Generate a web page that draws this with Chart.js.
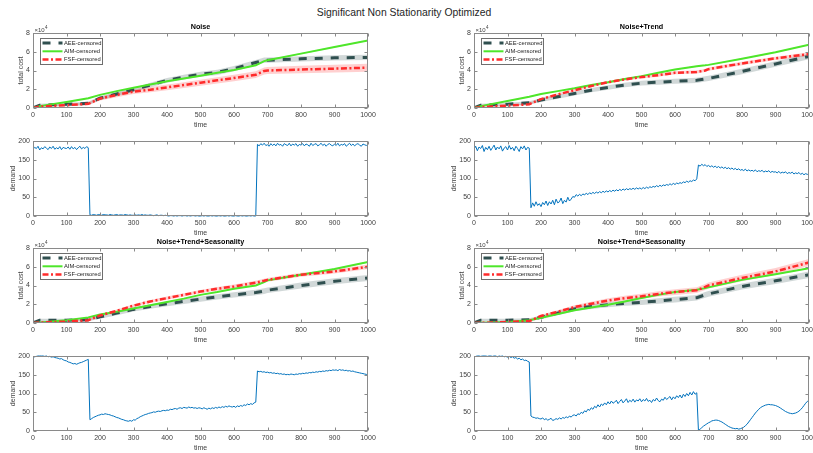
<!DOCTYPE html>
<html>
<head>
<meta charset="utf-8">
<script src="https://cdn.jsdelivr.net/npm/chart.js@4.4.1/dist/chart.umd.min.js"></script>
<style>
  body { margin: 0; background: #fff; }
  #fig { position: relative; width: 813px; height: 453px; overflow: hidden; background: #fff; }
  #fig canvas { position: absolute; }
  #suptitle { position: absolute; left: 0; top: 7px; width: 808px; text-align: center;
    font: 10.4px/12px "Liberation Sans", Arial, sans-serif; color: #262626; }
</style>
</head>
<body>
<div id="fig">
  <div id="suptitle">Significant Non Stationarity Optimized</div>
</div>
<script>
"use strict";

// time points where the cumulative cost curves are sampled
const costTime = [0, 20, 100, 165, 200, 250, 300, 350, 400, 450, 500, 550, 600, 665, 690, 700, 800, 900, 1000];

// total cost (x 10^4) per method
const noiseAee = [0, 0.3, 0.4, 0.5, 1.05, 1.5, 1.95, 2.45, 2.95, 3.3, 3.6, 3.8, 4.2, 4.85, 5.1, 5.1, 5.25, 5.35, 5.4];
const noiseAim = [0, 0.2, 0.65, 1.05, 1.4, 1.8, 2.15, 2.5, 2.85, 3.15, 3.45, 3.75, 4.05, 4.55, 5.0, 5.1, 5.8, 6.5, 7.2];
const noiseFsf = [0, 0.15, 0.3, 0.45, 1.0, 1.4, 1.75, 1.95, 2.2, 2.45, 2.7, 2.95, 3.2, 3.55, 3.95, 4.0, 4.1, 4.2, 4.3];

const trendAee = [0, 0.3, 0.4, 0.55, 0.85, 1.2, 1.55, 1.9, 2.2, 2.45, 2.65, 2.75, 2.85, 2.95, 3.1, 3.15, 3.9, 4.7, 5.5];
const trendAim = [0, 0.2, 0.75, 1.2, 1.5, 1.8, 2.1, 2.45, 2.75, 3.1, 3.4, 3.75, 4.1, 4.45, 4.55, 4.6, 5.25, 5.95, 6.75];
const trendFsf = [0, 0.1, 0.25, 0.4, 0.95, 1.45, 1.9, 2.35, 2.75, 3.05, 3.3, 3.5, 3.75, 3.85, 4.0, 4.15, 4.75, 5.3, 5.75];

const seasonAAee = [0, 0.3, 0.3, 0.35, 0.65, 1.05, 1.45, 1.75, 2.05, 2.3, 2.55, 2.8, 3.0, 3.25, 3.4, 3.5, 4.0, 4.45, 4.8];
const seasonAAim = [0, 0.05, 0.3, 0.6, 0.9, 1.2, 1.55, 1.9, 2.25, 2.6, 3.0, 3.3, 3.65, 4.0, 4.35, 4.55, 5.15, 5.75, 6.5];
const seasonAFsf = [0, 0.05, 0.15, 0.3, 0.8, 1.3, 1.85, 2.3, 2.65, 3.0, 3.35, 3.65, 3.9, 4.3, 4.5, 4.6, 5.15, 5.5, 6.0];

const seasonBAee = [0, 0.3, 0.3, 0.35, 0.6, 1.05, 1.5, 1.75, 1.95, 2.1, 2.2, 2.35, 2.5, 2.7, 3.0, 3.1, 3.9, 4.5, 5.15];
const seasonBAim = [0, 0.02, 0.1, 0.3, 0.55, 0.95, 1.35, 1.65, 1.95, 2.3, 2.67, 3.0, 3.3, 3.55, 3.72, 3.8, 4.6, 5.2, 5.85];
const seasonBFsf = [0, 0.02, 0.1, 0.2, 0.75, 1.2, 1.7, 2.05, 2.4, 2.65, 2.85, 3.1, 3.3, 3.5, 3.85, 4.0, 4.8, 5.5, 6.45];

// half widths of the shaded spread around each cost curve
const aimSpread = [0, 0.03, 0.04, 0.05, 0.05, 0.05, 0.05, 0.05, 0.05, 0.05, 0.05, 0.05, 0.05, 0.05, 0.05, 0.05, 0.06, 0.06, 0.06];
const noiseAeeSpread = [0, 0.15, 0.15, 0.18, 0.2, 0.22, 0.22, 0.24, 0.25, 0.26, 0.26, 0.27, 0.28, 0.28, 0.28, 0.28, 0.28, 0.28, 0.28];
const noiseFsfSpread = [0, 0.08, 0.12, 0.15, 0.2, 0.24, 0.26, 0.28, 0.3, 0.31, 0.32, 0.34, 0.35, 0.36, 0.38, 0.38, 0.4, 0.42, 0.42];
const trendAeeSpread = [0, 0.15, 0.15, 0.18, 0.2, 0.22, 0.22, 0.23, 0.24, 0.24, 0.25, 0.26, 0.27, 0.28, 0.28, 0.28, 0.29, 0.3, 0.3];
const trendFsfSpread = [0, 0.05, 0.08, 0.1, 0.12, 0.12, 0.13, 0.14, 0.14, 0.15, 0.15, 0.16, 0.16, 0.17, 0.17, 0.17, 0.18, 0.18, 0.2];
const seasonAAeeSpread = [0, 0.15, 0.15, 0.17, 0.2, 0.22, 0.23, 0.24, 0.25, 0.26, 0.27, 0.28, 0.28, 0.29, 0.3, 0.3, 0.31, 0.32, 0.33];
const seasonAFsfSpread = [0, 0.05, 0.08, 0.1, 0.12, 0.14, 0.15, 0.16, 0.17, 0.18, 0.18, 0.19, 0.2, 0.2, 0.21, 0.21, 0.22, 0.22, 0.23];
const seasonBAeeSpread = [0, 0.15, 0.15, 0.17, 0.2, 0.22, 0.24, 0.25, 0.26, 0.27, 0.28, 0.29, 0.3, 0.3, 0.31, 0.31, 0.32, 0.33, 0.34];
const seasonBFsfSpread = [0, 0.05, 0.08, 0.1, 0.14, 0.17, 0.2, 0.22, 0.24, 0.26, 0.27, 0.28, 0.3, 0.31, 0.32, 0.33, 0.35, 0.36, 0.38];

// demand series, one value every 5 time steps (0..1000)
const demandTime = Array.from({ length: 201 }, (_, i) => i * 5);

const noiseDemand = [
  178, 183, 180, 186, 176, 182, 179, 185, 181, 177, 184, 180, 186, 178, 182, 179, 185, 177, 183, 181,
  180, 184, 178, 185, 179, 183, 177, 182, 186, 179, 183, 180, 185, 182, 3, 2, 4, 3, 2, 4,
  3, 2, 4, 3, 3, 2, 4, 3, 2, 3, 4, 2, 3, 3, 2, 4, 3, 2, 3, 2,
  2, 3, 2, 3, 2, 4, 2, 3, 2, 2, 3, 2, 1, 2, 3, 1, 2, 2, 1, 2,
  1, 0, 1, 1, 0, 1, 0, 1, 1, 0, 1, 1, 0, 1, 0, 1, 1, 0, 1, 0,
  0, 1, 0, 1, 0, 0, 1, 0, 1, 0, 0, 1, 0, 1, 0, 0, 1, 0, 1, 0,
  0, 1, 0, 0, 1, 0, 1, 0, 0, 1, 0, 1, 0, 0, 191, 187, 193, 189, 194, 188,
  190, 186, 193, 188, 192, 187, 194, 189, 191, 186, 193, 190, 188, 194, 187, 192, 189, 193, 186, 191,
  189, 193, 187, 192, 190, 186, 194, 188, 191, 193, 187, 190, 194, 188, 192, 186, 191, 193, 189, 187,
  192, 188, 194, 187, 191, 189, 193, 186, 190, 194, 188, 192, 187, 191, 193, 189, 186, 192, 190, 188,
  191
];

const trendDemand = [
  178, 186, 174, 184, 180, 188, 172, 183, 177, 186, 175, 182, 189, 176, 184, 179, 187, 173, 181, 185,
  176, 188, 178, 183, 174, 186, 180, 172, 185, 179, 187, 176, 183, 181, 22, 35, 26, 38, 28, 33,
  25, 36, 30, 40, 28, 38, 32, 42, 30, 45, 35, 38, 48, 33, 42, 37, 50, 40, 45, 52,
  50, 57, 53, 58, 54, 59, 56, 61, 57, 62, 59, 63, 60, 64, 61, 65, 62, 66, 63, 67,
  64, 68, 65, 69, 66, 70, 67, 71, 68, 72, 69, 73, 70, 73, 71, 74, 71, 75, 72, 75,
  72, 76, 73, 77, 74, 78, 76, 79, 77, 81, 78, 82, 79, 83, 81, 84, 82, 86, 83, 87,
  84, 88, 86, 89, 87, 91, 89, 93, 90, 94, 92, 96, 94, 99, 136, 133, 138, 134, 137, 132,
  135, 131, 134, 130, 133, 129, 132, 128, 131, 127, 130, 126, 129, 125, 128, 124, 127, 123, 126, 122,
  124, 121, 125, 120, 123, 120, 122, 119, 123, 118, 121, 119, 122, 117, 120, 118, 121, 116, 119, 117,
  118, 115, 119, 114, 117, 115, 118, 113, 116, 114, 117, 112, 115, 113, 116, 111, 114, 110, 113, 111,
  112
];

const seasonADemand = [
  195, 198, 199, 200, 200, 200, 200, 199, 200, 198, 199, 197, 198, 196, 195, 194, 192, 193, 190, 188,
  187, 184, 183, 181, 179, 180, 178, 180, 182, 183, 185, 187, 189, 191, 30, 33, 36, 38, 40, 42,
  43, 45, 44, 46, 45, 44, 43, 41, 40, 38, 36, 35, 33, 31, 30, 28, 27, 26, 28, 26,
  30, 29, 33, 35, 38, 40, 42, 44, 45, 47, 48, 49, 51, 50, 52, 53, 52, 54, 55, 54,
  56, 55, 58, 57, 59, 60, 58, 61, 62, 60, 63, 62, 61, 64, 62, 63, 61, 62, 60, 62,
  61, 59, 62, 60, 58, 61, 59, 62, 60, 63, 61, 64, 62, 65, 63, 66, 64, 67, 65, 64,
  66, 63, 67, 65, 68, 66, 70, 68, 72, 70, 73, 71, 75, 77, 160, 158, 159, 157, 158, 156,
  157, 155, 156, 154, 155, 153, 154, 152, 153, 151, 152, 150, 151, 150, 152, 151, 150, 152, 151, 153,
  152, 154, 153, 155, 154, 156, 155, 157, 156, 158, 157, 159, 158, 160, 159, 161, 160, 162, 161, 163,
  162, 163, 161, 164, 162, 163, 161, 162, 160, 161, 159, 160, 158, 157, 156, 155, 154, 153, 152, 151,
  150
];

const seasonBDemand = [
  195, 199, 200, 200, 199, 200, 200, 200, 199, 200, 200, 199, 200, 200, 198, 200, 199, 200, 198, 199,
  197, 199, 196, 198, 194, 196, 192, 194, 190, 192, 188, 189, 186, 184, 40, 37, 36, 34, 35, 33,
  32, 35, 30, 33, 29, 31, 34, 28, 30, 33, 31, 35, 32, 36, 34, 38, 35, 40, 37, 42,
  43, 40, 46, 44, 50, 47, 54, 51, 58, 55, 62, 58, 66, 62, 70, 64, 72, 68, 75, 70,
  78, 72, 80, 74, 77, 82, 73, 79, 84, 75, 80, 86, 76, 82, 78, 85, 77, 83, 80, 86,
  78, 84, 80, 87, 79, 82, 76, 84, 80, 88, 81, 78, 85, 82, 90, 84, 88, 92, 83, 91,
  86, 94, 89, 96, 88, 98, 92, 100, 94, 103, 96, 105, 98, 102, 1, 5, 9, 13, 16, 19,
  22, 24, 27, 28, 29, 29, 28, 26, 24, 21, 18, 15, 12, 10, 8, 7, 6, 7, 5, 6,
  8, 10, 14, 18, 24, 30, 36, 42, 48, 53, 58, 62, 65, 67, 69, 70, 71, 70, 70, 69,
  68, 66, 64, 61, 58, 55, 52, 50, 48, 47, 46, 47, 48, 50, 53, 57, 62, 68, 74, 79,
  81
];

const FONT = '"Liberation Sans", Arial, sans-serif';
const INK = '#404040';

const methods = [
  { key: 'aee', label: 'AEE-censored', color: '#2f4f4f', band: 'rgba(47,79,79,0.22)', width: 3, dash: [8, 8], order: 2 },
  { key: 'aim', label: 'AIM-censored', color: '#4ee62a', band: 'rgba(78,230,42,0.25)', width: 2, dash: [], order: 1 },
  { key: 'fsf', label: 'FSF-censored', color: '#ff2b2b', band: 'rgba(255,43,43,0.22)', width: 2.5, dash: [6, 2.5, 2, 2.5], order: 0 }
];

const panels = [
  { row: 0, col: 0, kind: 'cost', title: 'Noise',
    aee: noiseAee, aim: noiseAim, fsf: noiseFsf, aeeBand: noiseAeeSpread, aimBand: aimSpread, fsfBand: noiseFsfSpread },
  { row: 0, col: 1, kind: 'cost', title: 'Noise+Trend',
    aee: trendAee, aim: trendAim, fsf: trendFsf, aeeBand: trendAeeSpread, aimBand: aimSpread, fsfBand: trendFsfSpread },
  { row: 1, col: 0, kind: 'demand', demand: noiseDemand },
  { row: 1, col: 1, kind: 'demand', demand: trendDemand },
  { row: 2, col: 0, kind: 'cost', title: 'Noise+Trend+Seasonality',
    aee: seasonAAee, aim: seasonAAim, fsf: seasonAFsf, aeeBand: seasonAAeeSpread, aimBand: aimSpread, fsfBand: seasonAFsfSpread },
  { row: 2, col: 1, kind: 'cost', title: 'Noise+Trend+Seasonality',
    aee: seasonBAee, aim: seasonBAim, fsf: seasonBFsf, aeeBand: seasonBAeeSpread, aimBand: aimSpread, fsfBand: seasonBFsfSpread },
  { row: 3, col: 0, kind: 'demand', demand: seasonADemand },
  { row: 3, col: 1, kind: 'demand', demand: seasonBDemand }
];

// subplot grid
const colLeft = [0, 406], colWidth = [406, 407];
const plotLeft = [33, 474], plotRight = [368, 809];
const plotTop = [33, 141, 248, 356];
const PLOT_H = 75, HEAD = 18, FOOT = 22, X_AXIS_H = 21.5;

// box around the axes with short inward ticks on all four sides
const axesBox = {
  id: 'axesBox',
  afterDraw(chart) {
    const { ctx, chartArea: a, scales: { x, y } } = chart;
    const l = Math.round(a.left) + 0.5, r = Math.round(a.right) - 0.5;
    const t = Math.round(a.top) + 0.5, b = Math.round(a.bottom) - 0.5;
    ctx.save();
    ctx.strokeStyle = '#8a8a8a';
    ctx.lineWidth = 1;
    ctx.beginPath();
    x.ticks.forEach(tk => {
      const px = Math.round(x.getPixelForValue(tk.value)) + 0.5;
      ctx.moveTo(px, b); ctx.lineTo(px, b - 3);
      ctx.moveTo(px, t); ctx.lineTo(px, t + 3);
    });
    y.ticks.forEach(tk => {
      const py = Math.round(y.getPixelForValue(tk.value)) + 0.5;
      ctx.moveTo(l, py); ctx.lineTo(l + 3, py);
      ctx.moveTo(r, py); ctx.lineTo(r - 3, py);
    });
    ctx.stroke();
    ctx.strokeRect(l, t, r - l, b - t);
    ctx.restore();
  }
};

// subplot title, x10^4 exponent and the boxed legend
const panelDecor = {
  id: 'panelDecor',
  afterDraw(chart, args, opts) {
    const { ctx, chartArea: a } = chart;
    ctx.save();
    if (opts.title) {
      ctx.fillStyle = '#000';
      ctx.font = `bold 7.2px ${FONT}`;
      ctx.textAlign = 'center';
      ctx.textBaseline = 'middle';
      ctx.fillText(opts.title, (a.left + a.right) / 2, a.top - 6);
    }
    if (opts.exponent) {
      ctx.fillStyle = INK;
      ctx.textAlign = 'left';
      ctx.textBaseline = 'alphabetic';
      ctx.font = `6px ${FONT}`;
      const base = '\u00d710';
      ctx.fillText(base, a.left + 1.5, a.top - 1);
      const w = ctx.measureText(base).width;
      ctx.font = `4.5px ${FONT}`;
      ctx.fillText('4', a.left + 1.8 + w, a.top - 4);
    }
    if (opts.legend) {
      const bx = Math.round(a.left) + 7.5, by = Math.round(a.top) + 5.5, bw = 62, bh = 26;
      ctx.fillStyle = '#fff';
      ctx.fillRect(bx, by, bw, bh);
      ctx.strokeStyle = '#6e6e6e';
      ctx.lineWidth = 1;
      ctx.strokeRect(bx, by, bw, bh);
      methods.forEach((m, i) => {
        const yy = by + 4.5 + i * 8.3;
        ctx.setLineDash(m.dash);
        ctx.strokeStyle = m.color;
        ctx.lineWidth = m.width;
        ctx.beginPath();
        ctx.moveTo(bx + 2, yy);
        ctx.lineTo(bx + 22, yy);
        ctx.stroke();
        ctx.setLineDash([]);
        ctx.fillStyle = '#262626';
        ctx.font = `5.8px ${FONT}`;
        ctx.textAlign = 'left';
        ctx.textBaseline = 'middle';
        ctx.fillText(m.label, bx + 23.5, yy);
      });
    }
    ctx.restore();
  }
};

const toPoints = (xs, ys) => ys.map((v, i) => ({ x: xs[i], y: v }));

const costDatasets = (p) => {
  const sets = [];
  methods.forEach(m => {
    const vals = p[m.key], spread = p[m.key + 'Band'];
    sets.push({
      data: vals.map((v, i) => ({ x: costTime[i], y: v - spread[i] })),
      borderWidth: 0, borderColor: 'transparent', pointRadius: 0, fill: false, order: 10
    });
    sets.push({
      data: vals.map((v, i) => ({ x: costTime[i], y: v + spread[i] })),
      borderWidth: 0, borderColor: 'transparent', pointRadius: 0, fill: '-1',
      backgroundColor: m.band, order: 10
    });
  });
  methods.forEach(m => {
    sets.push({
      label: m.label,
      data: toPoints(costTime, p[m.key]),
      borderColor: m.color, borderWidth: m.width, borderDash: m.dash,
      borderCapStyle: 'butt', pointRadius: 0, fill: false, tension: 0, order: m.order
    });
  });
  return sets;
};

const demandDatasets = (p) => [{
  data: toPoints(demandTime, p.demand),
  borderColor: '#0072bd', borderWidth: 1, pointRadius: 0, fill: false, tension: 0,
  clip: { left: 0, right: 0, top: 2, bottom: 2 }
}];

const fig = document.getElementById('fig');

panels.forEach(p => {
  const isCost = p.kind === 'cost';
  const yWidth = isCost ? 16 : 24.5;
  const canvas = document.createElement('canvas');
  const top = plotTop[p.row] - HEAD;
  const height = HEAD + PLOT_H + FOOT;
  canvas.width = colWidth[p.col];
  canvas.height = height;
  canvas.style.left = colLeft[p.col] + 'px';
  canvas.style.top = top + 'px';
  fig.appendChild(canvas);

  const tickFont = { size: 7, family: FONT };

  new Chart(canvas, {
    type: 'line',
    data: { datasets: isCost ? costDatasets(p) : demandDatasets(p) },
    plugins: [axesBox, panelDecor],
    options: {
      responsive: false,
      animation: false,
      events: [],
      layout: {
        padding: {
          left: plotLeft[p.col] - colLeft[p.col] - yWidth,
          right: colLeft[p.col] + colWidth[p.col] - plotRight[p.col],
          top: HEAD,
          bottom: height - HEAD - PLOT_H - X_AXIS_H
        }
      },
      plugins: {
        legend: { display: false },
        tooltip: { enabled: false },
        filler: { propagate: false, drawTime: 'beforeDatasetsDraw' },
        panelDecor: { title: p.title, exponent: isCost, legend: isCost }
      },
      scales: {
        x: {
          type: 'linear', min: 0, max: 1000,
          border: { display: false },
          grid: { display: false, drawTicks: false },
          ticks: { stepSize: 100, padding: 3, maxRotation: 0, autoSkip: false, color: INK, font: tickFont,
                   callback: v => String(v) },
          title: { display: true, text: 'time', padding: 0, color: INK, font: tickFont },
          afterFit: s => { s.height = X_AXIS_H; s.paddingLeft = 0; s.paddingRight = 0; }
        },
        y: {
          type: 'linear', min: 0, max: isCost ? 8 : 200,
          border: { display: false },
          grid: { display: false, drawTicks: false },
          ticks: { stepSize: isCost ? 2 : 50, padding: 3, color: INK, font: tickFont,
                   callback: v => String(v) },
          title: { display: true, text: isCost ? 'total cost' : 'demand', padding: 0, color: INK, font: tickFont },
          afterFit: s => { s.width = yWidth; s.paddingTop = 0; s.paddingBottom = 0; }
        }
      }
    }
  });
});
</script>
</body>
</html>
